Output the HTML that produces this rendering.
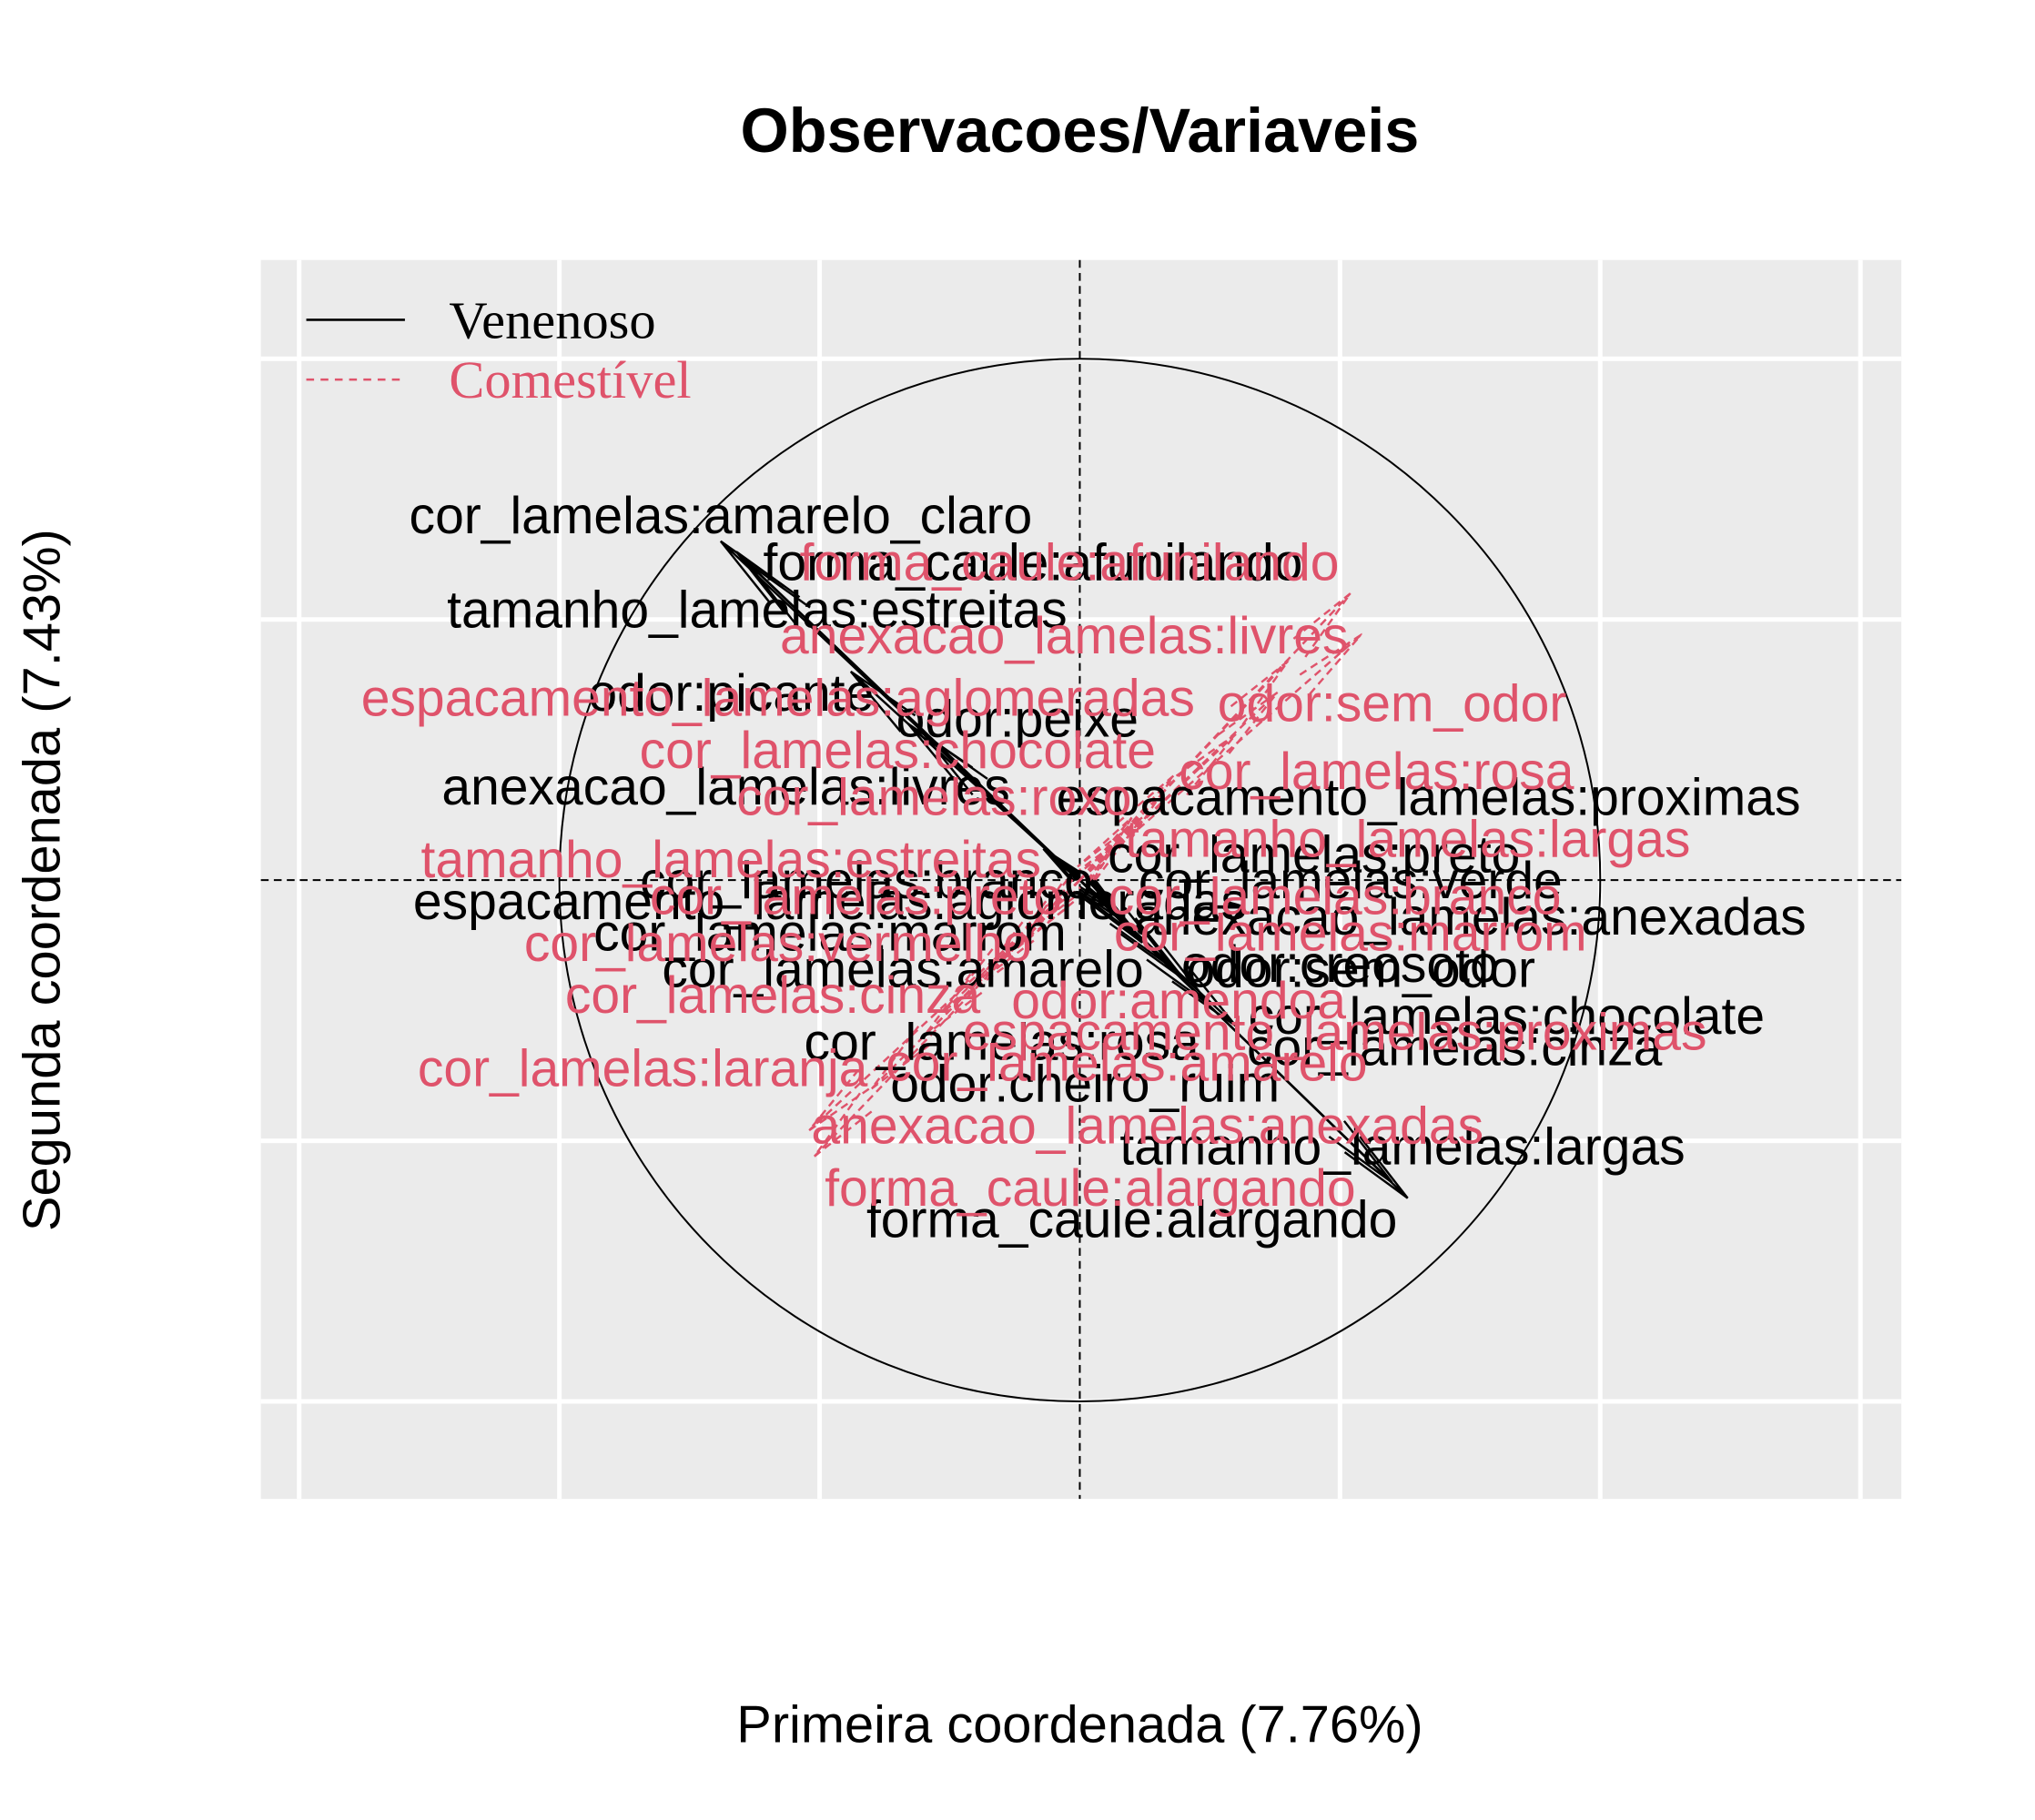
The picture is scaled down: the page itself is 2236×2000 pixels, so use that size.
<!DOCTYPE html>
<html><head><meta charset="utf-8"><style>
html,body{margin:0;padding:0;background:#fff}
svg{display:block}
text{font-family:"Liberation Sans",Arial,sans-serif}
</style></head><body>
<svg id="chart" width="2236" height="2000" viewBox="0 0 1568 1400" preserveAspectRatio="none" xmlns="http://www.w3.org/2000/svg">
<rect x="0" y="0" width="1568" height="1400" fill="#fff"/>
<rect x="201" y="200" width="1264" height="953" fill="#ebebeb"/>
<g id="grid"></g>
<line x1="201" y1="677" x2="1465" y2="677" stroke="#000" stroke-width="1.4" stroke-dasharray="6,4"/>
<line x1="832" y1="200" x2="832" y2="1153" stroke="#000" stroke-width="1.4" stroke-dasharray="6,4"/>
<circle cx="832" cy="677" r="401" fill="none" stroke="#000" stroke-width="1.4"/>
<g id="arrows"></g>
<g id="labels"></g>
<text x="832" y="117" text-anchor="middle" font-size="48" font-weight="bold">Observacoes/Variaveis</text>
<text x="832" y="1340" text-anchor="middle" font-size="40.5">Primeira coordenada (7.76%)</text>
<text transform="translate(46,677) rotate(-90)" text-anchor="middle" font-size="40.5">Segunda coordenada (7.43%)</text>
<g>
<line x1="236" y1="246" x2="312" y2="246" stroke="#000" stroke-width="1.8"/>
<text x="346" y="260" font-size="41" style="font-family:'Liberation Serif',serif">Venenoso</text>
<line x1="236" y1="292" x2="312" y2="292" stroke="#DF536B" stroke-width="1.8" stroke-dasharray="6,5"/>
<text x="346" y="306" font-size="41" fill="#DF536B" style="font-family:'Liberation Serif',serif">Comestível</text>
</g>
</svg>
<script>
// Venenoso (black) variables
const blackNames = ["cor_lamelas:amarelo_claro","forma_caule:afunilando","tamanho_lamelas:estreitas","odor:picante","odor:peixe","anexacao_lamelas:livres","espacamento_lamelas:proximas","cor_lamelas:preto","cor_lamelas:verde","cor_lamelas:branco","espacamento_lamelas:aglomeradas","anexacao_lamelas:anexadas","cor_lamelas:marrom","cor_lamelas:amarelo","odor:creosoto","odor:sem_odor","cor_lamelas:chocolate","cor_lamelas:rosa","cor_lamelas:cinza","odor:cheiro_ruim","tamanho_lamelas:largas","forma_caule:alargando"];
const blackArrowX = [-0.69,-0.66,-0.64,-0.44,-0.33,-0.30,0.10,0.06,0.08,-0.05,-0.07,0.12,-0.06,-0.03,0.18,0.20,0.30,-0.02,0.25,0.10,0.63,0.60];
const blackArrowY = [0.65,0.63,0.61,0.40,0.30,0.28,-0.09,-0.05,-0.07,0.04,0.06,-0.12,0.05,0.03,-0.17,-0.19,-0.28,0.02,-0.24,-0.10,-0.61,-0.58];
const blackLabelX = [-0.69,-0.09,-0.62,-0.67,-0.12,-0.68,0.67,0.45,0.52,-0.41,-0.48,0.75,-0.48,-0.34,0.50,0.54,0.82,-0.15,0.72,0.01,0.62,0.10];
const blackLabelY = [0.70,0.61,0.52,0.36,0.31,0.18,0.16,0.05,0.00,0.00,-0.04,-0.07,-0.10,-0.17,-0.16,-0.17,-0.26,-0.31,-0.32,-0.39,-0.51,-0.65];
// Comestivel (red) variables
const redNames = ["forma_caule:afunilando","anexacao_lamelas:livres","espacamento_lamelas:aglomeradas","odor:sem_odor","cor_lamelas:chocolate","cor_lamelas:rosa","cor_lamelas:roxo","tamanho_lamelas:largas","tamanho_lamelas:estreitas","cor_lamelas:preto","cor_lamelas:branco","cor_lamelas:vermelho","cor_lamelas:marrom","cor_lamelas:cinza","odor:amendoa","espacamento_lamelas:proximas","cor_lamelas:laranja","cor_lamelas:amarelo","anexacao_lamelas:anexadas","forma_caule:alargando"];
const redArrowX = [0.52,0.54,0.40,0.38,0.18,0.30,0.10,0.12,-0.10,-0.06,0.06,-0.14,0.08,-0.20,-0.12,-0.26,-0.40,-0.30,-0.52,-0.51];
const redArrowY = [0.55,0.47,0.42,0.36,0.20,0.28,0.12,0.12,-0.10,-0.06,0.06,-0.14,0.08,-0.20,-0.13,-0.25,-0.40,-0.30,-0.48,-0.53];
const redLabelX = [-0.02,-0.03,-0.58,0.60,-0.35,0.57,-0.28,0.63,-0.67,-0.43,0.49,-0.58,0.52,-0.59,0.19,0.49,-0.84,0.09,0.13,0.02];
const redLabelY = [0.61,0.47,0.35,0.34,0.25,0.21,0.16,0.08,0.04,-0.03,-0.03,-0.12,-0.10,-0.22,-0.23,-0.29,-0.36,-0.35,-0.47,-0.59];

const cx=832, cy=677, R=401;
const sx=v=>cx+v*R, sy=v=>cy-v*R;
const NS="http://www.w3.org/2000/svg";
const grid=document.getElementById('grid');
const gridX=[-1.5,-1,-0.5,0.5,1,1.5], gridY=[1,0.5,-0.5,-1];
gridX.forEach(g=>{const l=document.createElementNS(NS,'line');
l.setAttribute('x1',sx(g));l.setAttribute('x2',sx(g));l.setAttribute('y1',200);l.setAttribute('y2',1153);
l.setAttribute('stroke','#fff');l.setAttribute('stroke-width','3.5');


grid.appendChild(l);});
gridY.forEach(g=>{const l=document.createElementNS(NS,'line');
l.setAttribute('y1',sy(g));l.setAttribute('y2',sy(g));l.setAttribute('x1',201);l.setAttribute('x2',1465);
l.setAttribute('stroke','#fff');l.setAttribute('stroke-width','3.5');


grid.appendChild(l);});

const ag=document.getElementById('arrows'), lg=document.getElementById('labels');
function arrow(x,y,color,dash,name){
  const x2=sx(x),y2=sy(y);
  const ang=Math.atan2(y2-cy,x2-cx), len=Math.hypot(x2-cx,y2-cy), h=Math.min(60,len*0.9), a=0.14;
  const d=`M${cx},${cy}L${x2},${y2}M${x2-h*Math.cos(ang-a)},${y2-h*Math.sin(ang-a)}L${x2},${y2}L${x2-h*Math.cos(ang+a)},${y2-h*Math.sin(ang+a)}`;
  const p=document.createElementNS(NS,'path');
  p.setAttribute('d',d);p.setAttribute('fill','none');p.setAttribute('stroke',color);p.setAttribute('stroke-width','1.7');
  if(dash)p.setAttribute('stroke-dasharray','6,4');
  
  
  ag.appendChild(p);
}
function label(x,y,t,color,name){
  const e=document.createElementNS(NS,'text');
  e.setAttribute('x',sx(x));e.setAttribute('y',sy(y)+14);e.setAttribute('text-anchor','middle');
  e.setAttribute('font-size','40');e.setAttribute('fill',color);e.textContent=t;
  
  
  lg.appendChild(e);
}
blackNames.forEach((n,i)=>{arrow(blackArrowX[i],blackArrowY[i],'#000',false,'arrow-venenoso');});
redNames.forEach((n,i)=>{arrow(redArrowX[i],redArrowY[i],'#DF536B',true,'arrow-comestivel');});
blackNames.forEach((n,i)=>{label(blackLabelX[i],blackLabelY[i],n,'#000','label-venenoso');});
redNames.forEach((n,i)=>{label(redLabelX[i],redLabelY[i],n,'#DF536B','label-comestivel');});
</script>
</body></html>
